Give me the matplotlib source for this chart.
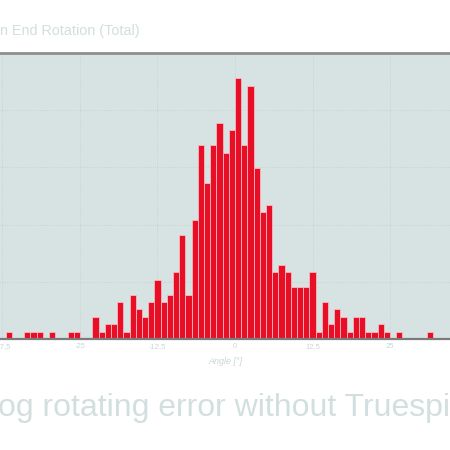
# plot.py - histogram of end rotation error (cropped view)
# -*- coding: utf-8 -*-

import numpy as np
import matplotlib
matplotlib.use('Agg')
import matplotlib.pyplot as plt

# --- data ---
bin_start = -37   # left edge of first bin, degrees
bin_width = 1.0
counts = [1, 0, 0, 1, 1, 1, 0, 1, 0, 0, 1, 1, 0, 0,      # -37 .. -24
          3, 1, 2, 2, 5, 1, 6, 4, 3, 5, 8, 5, 6, 9,      # -23 .. -10
          14, 6, 16, 26, 21, 26, 29, 25, 28,             # -9 .. -1
          35, 26, 34, 23, 17, 18, 9, 10, 9, 7, 7, 7, 9,  # 0 .. 12
          1, 5, 2, 4, 3, 1, 3, 3, 1, 1, 2, 1, 0, 1,      # 13 .. 26
          0, 0, 0, 0, 1]                                 # 27 .. 31
x_ticks = [-37.5, -25, -12.5, 0, 12.5, 25]
x_tick_labels = ['-37,5', '-25', '-12,5', '0', '12,5', '25']
title_text = 'n End Rotation (Total)'
x_label = 'Angle [°]'
caption = 'og rotating error without Truespi'

# --- style ---
BAR_RED = '#e70f26'
BG = '#d7e2e2'
LIGHT_TXT = '#d3dfdf'
TICK_TXT = '#c9d6d6'
plt.rcParams['font.family'] = ['Liberation Sans', 'DejaVu Sans']

edges = bin_start + bin_width * np.arange(len(counts))

fig = plt.figure(figsize=(4.5, 4.5), dpi=100)
ax = fig.add_axes([0.0, 1 - 339.3 / 450, 1.0, (339.3 - 52.7) / 450])
ax.set_facecolor(BG)

ax.bar(edges, counts, width=bin_width, align='edge', color=BAR_RED,
       edgecolor=(1, 0.75, 0.78, 0.9), linewidth=0.6, zorder=3)

# axis ranges so that the view is cropped like the reference
ax.set_xlim(-235 / 6.2, 215 / 6.2)
ymax = 286.6 / 7.46
ax.set_ylim(0, ymax)

ax.set_xticks(x_ticks)
ax.set_xticklabels(x_tick_labels, fontsize=5.5, color=TICK_TXT)
ax.set_yticks([ymax * k / 5 for k in range(1, 5)])
ax.set_yticklabels([])
ax.tick_params(axis='both', length=0, pad=3)
ax.grid(True, linestyle=':', linewidth=0.6, color='#c2d0cc', zorder=0)

for side in ['left', 'right']:
    ax.spines[side].set_visible(False)
ax.spines['top'].set_color('#8e8e8e')
ax.spines['top'].set_linewidth(2)
ax.spines['bottom'].set_color('#7b7b7b')
ax.spines['bottom'].set_linewidth(1.6)
ax.spines['bottom'].set_zorder(4)

ax.set_xlabel(x_label, fontsize=6.5, style='italic', color=TICK_TXT, labelpad=5)

# cropped title and caption
fig.text(0.0, 1 - 31 / 450, title_text, fontsize=10.4, color=LIGHT_TXT,
         ha='left', va='center')
fig.text(-0.005, 1 - 408 / 450, caption, fontsize=23, color=LIGHT_TXT,
         ha='left', va='center')

fig.savefig('out.png', dpi=100)
plt.close(fig)
